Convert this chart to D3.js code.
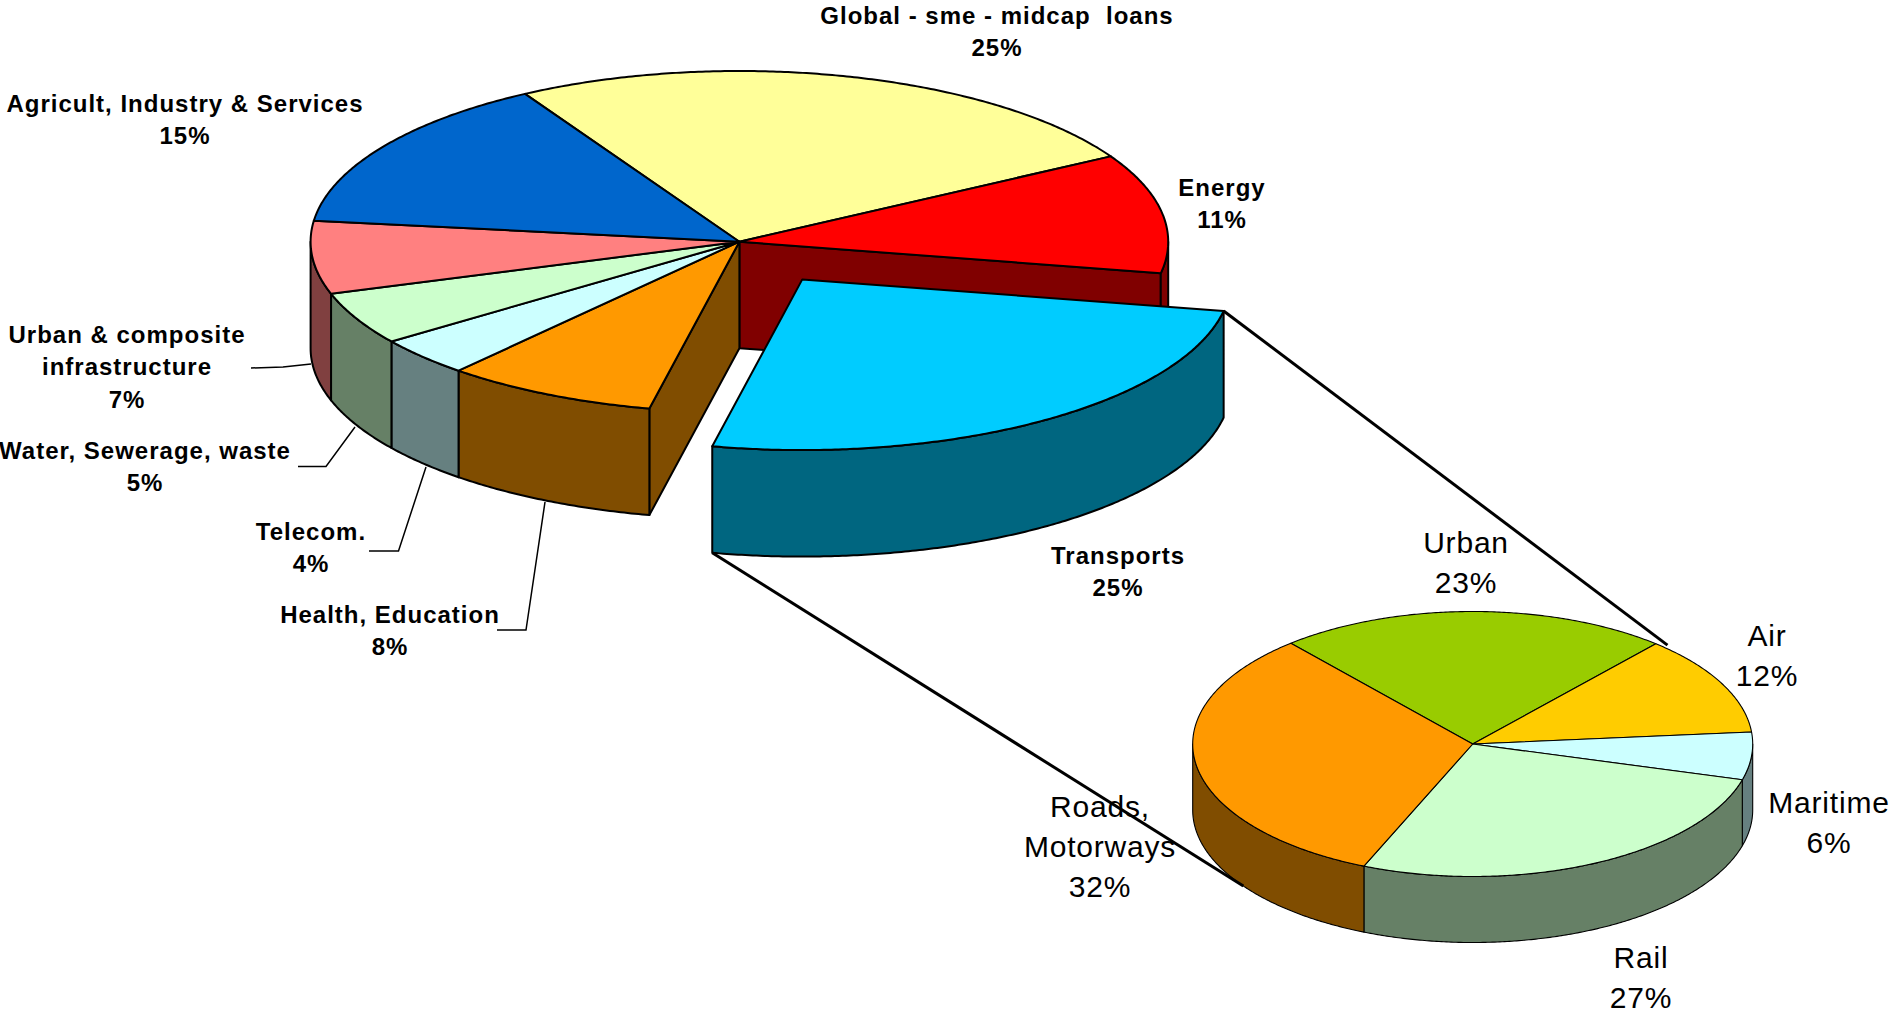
<!DOCTYPE html>
<html>
<head>
<meta charset="utf-8">
<script src="https://cdn.jsdelivr.net/npm/d3@7"></script>
<style>
  html, body { margin: 0; padding: 0; background: #fff; }
  svg { display: block; }
  text { font-family: "Liberation Sans", Arial, sans-serif; fill: #000; white-space: pre; }
</style>
</head>
<body>
<div id="chart"></div>
<script>
// lending by sector (% of total)
const sectors = [
  "Global - sme - midcap  loans",
  "Energy",
  "Transports",
  "Health, Education",
  "Telecom.",
  "Water, Sewerage, waste",
  "Urban & composite\ninfrastructure",
  "Agricult, Industry & Services"
];
const sectorShares = [25.0, 11.3, 25.4, 8.0, 3.7, 5.0, 6.9, 14.7];
const sectorColors = ["#FFFF99", "#FF0000", "#00CCFF", "#FF9900", "#CCFFFF", "#CCFFCC", "#FF8080", "#0066CC"];

// breakdown of the Transports slice (% of transports)
const modes = ["Urban", "Air", "Maritime", "Rail", "Roads,\nMotorways"];
const modeShares = [22.6, 12.2, 5.8, 27.0, 32.4];
const modeColors = ["#99CC00", "#FFCC00", "#CCFFFF", "#CCFFCC", "#FF9900"];

const width = 1893, height = 1016;
const rad = Math.PI / 180;

// pie geometry (ellipse centre, radii, thickness)
const mainPie = { cx: 739.4, cy: 241.7, rx: 428.8, ry: 170.7, depth: 106.5, start: -30, stroke: 2, explode: { 2: 0.265 } };
const subPie = { cx: 1472.7, cy: 744, rx: 280, ry: 132.5, depth: 66, start: -40.5, stroke: 1.1, explode: {} };

// label anchors: [centre x, first baseline]
const mainLabelPos = [[997, 24], [1222, 196], [1118, 564], [390, 623], [311, 540], [145, 459], [127, 343], [185, 112]];
const subLabelPos = [[1466, 553], [1767, 646], [1829, 813], [1641, 968], [1100, 817]];

// leader lines for the small slices (sector index -> polyline)
const leaders = {
  6: [[251, 368], [283, 367], [311, 364]],
  5: [[298, 466.5], [326, 466.5], [355, 427]],
  4: [[369, 551], [398.5, 551], [426, 467]],
  3: [[497, 630], [526, 630], [545, 502]]
};

const svg = d3.select("#chart").append("svg")
  .attr("width", width)
  .attr("height", height)
  .attr("viewBox", `0 0 ${width} ${height}`);

function layout(values, startDeg) {
  const s = startDeg * rad;
  return d3.pie().sort(null).startAngle(s).endAngle(s + 2 * Math.PI)(values);
}

function pt(g, a, r, dz) {
  return [g.cx + g.rx * r * Math.sin(a), g.cy - g.ry * r * Math.cos(a) + dz];
}

function half(c) {
  const k = d3.rgb(c);
  return d3.rgb(k.r / 2, k.g / 2, k.b / 2).formatHex();
}

function drawPie(g, arcs, colors) {
  const n = arcs.length;
  const line = d3.line().curve(d3.curveLinearClosed);
  const layer = svg.append("g")
    .attr("stroke", "#000")
    .attr("stroke-width", g.stroke)
    .attr("stroke-linejoin", "round");

  const isOut = d => (g.explode[d.index] || 0) > 0;
  const shift = d => {
    const e = g.explode[d.index] || 0;
    const m = (d.startAngle + d.endAngle) / 2;
    return [g.rx * e * Math.sin(m), -g.ry * e * Math.cos(m)];
  };
  const rim = (d, a0, a1, dz) => {
    const o = shift(d);
    const steps = Math.max(2, Math.ceil(Math.abs(a1 - a0) / (0.5 * rad)));
    return d3.range(steps + 1).map(i => {
      const p = pt(g, a0 + (a1 - a0) * i / steps, 1, dz);
      return [p[0] + o[0], p[1] + o[1]];
    });
  };

  const drawSlice = d => {
    const o = shift(d);
    const apex = [g.cx + o[0], g.cy + o[1]];
    const col = colors[d.index];

    // cut faces, only where a gap opens next to an exploded slice
    const prev = arcs[(d.index + n - 1) % n], next = arcs[(d.index + 1) % n];
    [[d.startAngle, -1, isOut(prev)], [d.endAngle, 1, isOut(next)]].forEach(([a, s, gap]) => {
      if (!(gap || isOut(d)) || s * Math.sin(a) <= 0) return;
      const p = rim(d, a, a, 0)[0];
      layer.append("path")
        .attr("fill", half(col))
        .attr("d", line([apex, p, [p[0], p[1] + g.depth], [apex[0], apex[1] + g.depth]]));
    });

    // outer wall, front half only
    const b0 = Math.max(d.startAngle, Math.PI / 2), b1 = Math.min(d.endAngle, 1.5 * Math.PI);
    if (b1 > b0) {
      layer.append("path")
        .attr("fill", half(col))
        .attr("d", line(rim(d, b0, b1, 0).concat(rim(d, b1, b0, g.depth))));
    }
  };

  const drawTop = d => {
    const o = shift(d);
    layer.append("path")
      .attr("fill", colors[d.index])
      .attr("d", line([[g.cx + o[0], g.cy + o[1]]].concat(rim(d, d.startAngle, d.endAngle, 0))));
  };

  const still = arcs.filter(d => !isOut(d));
  const moved = arcs.filter(isOut);
  still.forEach(drawSlice);
  still.forEach(drawTop);
  moved.forEach(d => { drawSlice(d); drawTop(d); });
  return shift;
}

function drawLabels(arcs, names, pos, cls) {
  const total = d3.sum(arcs, d => d.value);
  const t = svg.append("g").attr("class", cls.name)
    .attr("font-size", cls.size)
    .attr("font-weight", cls.weight)
    .attr("letter-spacing", cls.spacing)
    .attr("text-anchor", "middle");
  arcs.forEach((d, i) => {
    const lines = names[i].split("\n").concat([Math.round(100 * d.value / total) + "%"]);
    const txt = t.append("text");
    lines.forEach((s, j) => {
      txt.append("tspan")
        .attr("x", pos[i][0])
        .attr("y", pos[i][1] + j * cls.lineHeight)
        .text(s);
    });
  });
}

const mainArcs = layout(sectorShares, mainPie.start);
const subArcs = layout(modeShares, subPie.start);

const mainShift = drawPie(mainPie, mainArcs, sectorColors);
drawPie(subPie, subArcs, modeColors);

// leader lines
svg.append("g")
  .attr("fill", "none")
  .attr("stroke", "#000")
  .attr("stroke-width", 1.5)
  .selectAll("path")
  .data(Object.values(leaders))
  .join("path")
  .attr("d", d3.line());

drawLabels(mainArcs, sectors, mainLabelPos, { name: "main-labels", size: 24, weight: "bold", spacing: 1, lineHeight: 32.4 });
drawLabels(subArcs, modes, subLabelPos, { name: "sub-labels", size: 30, weight: "normal", spacing: 0.8, lineHeight: 40 });

// connectors from the exploded Transports slice to the breakdown pie
const tr = mainArcs[2];
const o = mainShift(tr);
const a = pt(mainPie, tr.startAngle, 1, 0);
const b = pt(mainPie, tr.endAngle, 1, mainPie.depth);
const connectors = [
  [[a[0] + o[0], a[1] + o[1]], pt(subPie, 43 * rad, 1.02, 0)],
  [[b[0] + o[0], b[1] + o[1]], pt(subPie, 235 * rad, 1, subPie.depth)]
];
svg.append("g")
  .attr("stroke", "#000")
  .attr("stroke-width", 3)
  .selectAll("line")
  .data(connectors)
  .join("line")
  .attr("x1", d => d[0][0])
  .attr("y1", d => d[0][1])
  .attr("x2", d => d[1][0])
  .attr("y2", d => d[1][1]);
</script>
</body>
</html>
